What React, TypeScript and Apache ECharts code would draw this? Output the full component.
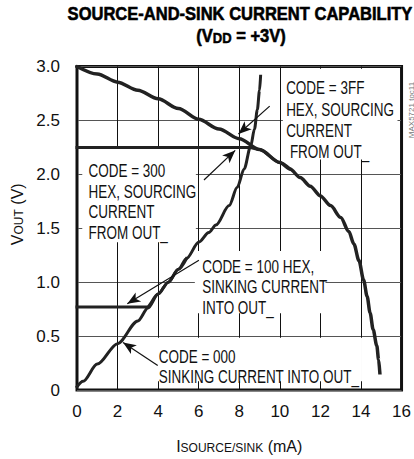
import React, { useEffect, useRef } from "react";
import * as echarts from "echarts";

// ---- data (I in mA, VOUT in V) ----
const code3FF: [number, number][] = [
  [0, 3.0], [1, 2.93], [2, 2.855], [3, 2.78], [4, 2.70], [5, 2.61], [6, 2.51],
  [7, 2.42], [8, 2.33], [9, 2.23], [10, 2.11], [10.5, 2.05], [11, 1.97],
  [11.5, 1.89], [12, 1.80], [12.5, 1.71], [13, 1.60], [13.4, 1.47],
  [13.65, 1.355], [13.9, 1.20], [14.13, 1.02], [14.3, 0.87], [14.45, 0.715],
  [14.6, 0.56], [14.78, 0.41], [14.87, 0.28], [14.93, 0.16],
];
const code300: [number, number][] = [
  [0, 2.25], [8.5, 2.25], [9, 2.23], [10, 2.11], [10.5, 2.05],
];
const code000: [number, number][] = [
  [0, 0.03], [0.3, 0.08], [1, 0.24], [2, 0.43], [3, 0.64], [3.5, 0.76],
  [4, 0.89], [4.5, 1.0], [5, 1.12], [5.4, 1.22], [6, 1.37], [6.5, 1.46],
  [6.85, 1.53], [7.5, 1.71], [7.9, 1.88], [8.24, 2.05], [8.56, 2.26],
  [8.75, 2.42], [8.89, 2.6], [9.0, 2.78], [9.05, 2.91],
];
const code100: [number, number][] = [
  [0, 0.77], [3.45, 0.77], [4, 0.89], [4.5, 1.0], [5, 1.12], [5.4, 1.22],
];

const arrowFrom: [number, number][] = [[9.5, 2.633], [6.26, 1.948], [6.01, 1.203], [3.98, 0.228]];
const arrowTo: [number, number][] = [[7.96, 2.374], [7.8, 2.222], [2.48, 0.8], [2.27, 0.441]];

const label3FF = ["CODE = 3FF", "HEX, SOURCING", "CURRENT", " FROM OUT_"];
const label300 = ["CODE = 300", "HEX, SOURCING", "CURRENT", "FROM OUT_"];
const label100 = ["CODE = 100 HEX,", "SINKING CURRENT", "INTO OUT_"];
const label000 = ["CODE = 000", "SINKING CURRENT INTO OUT_"];

const FONT = '"Liberation Sans", Arial, sans-serif';
const NARROW = 0.75;

export default function App() {
  const ref = useRef<HTMLDivElement>(null);
  useEffect(() => {
    const chart = echarts.init(ref.current!, null, { renderer: "svg" });
    const line = (name: string, data: [number, number][], width: number, extra: any = {}) => ({
      type: "line",
      name,
      data,
      symbol: "none",
      smooth: 0.3,
      smoothMonotone: "x",
      silent: true,
      z: 2,
      lineStyle: { color: "#222", width, cap: "square" },
      ...extra,
    });
    const nameRich = {
      m: { fontSize: 16, fontFamily: FONT, color: "#111", verticalAlign: "bottom", lineHeight: 20 },
      s: { fontSize: 12, fontFamily: FONT, color: "#111", verticalAlign: "bottom", lineHeight: 17.5 },
    };
    chart.setOption({
      animation: false,
      grid: {
        left: 77, top: 66.5, width: 328, height: 328.5,
        show: true, borderColor: "#111", borderWidth: 3, backgroundColor: "transparent",
      },
      xAxis: {
        type: "value", min: 0, max: 16, interval: 2,
        axisLine: { show: false }, axisTick: { show: false },
        splitLine: { show: true, lineStyle: { color: "#111", width: 1 } },
        axisLabel: { fontSize: 17, fontFamily: FONT, color: "#111", margin: 13 },
        name: "{m|I}{s|SOURCE/SINK}{m| (mA)}",
        nameLocation: "middle",
        nameGap: 44,
        nameTextStyle: { rich: nameRich },
      },
      yAxis: {
        type: "value", min: 0, max: 3, interval: 0.5,
        axisLine: { show: false }, axisTick: { show: false },
        splitLine: { show: true, lineStyle: { color: "#555", width: 1 } },
        axisLabel: {
          fontSize: 17, fontFamily: FONT, color: "#111", margin: 17,
          formatter: (v: number) => (v === 0 ? "0" : v.toFixed(1)),
        },
        name: "{m|V}{s|OUT}{m| (V)}",
        nameLocation: "middle",
        nameRotate: 90,
        nameGap: 46,
        nameTextStyle: { rich: nameRich, padding: [0, 0, 0, 28] },
      },
      series: [
        line("CODE = 3FF", code3FF, 3.5, {
          markLine: {
            silent: true,
            symbol: ["none", "arrow"],
            symbolSize: [8, 13],
            label: { show: false },
            lineStyle: { color: "#111", width: 1.2, type: "solid" },
            data: arrowFrom.map((f, i) => [{ coord: f }, { coord: arrowTo[i] }]),
          },
        }),
        line("CODE = 300", code300, 3),
        line("CODE = 000", code000, 3),
        line("CODE = 100", code100, 3),
      ],
    });

    const px = (p: [number, number]) => chart.convertToPixel({ gridIndex: 0 }, p) as number[];
    const boxes: { tl: [number, number]; br: [number, number] }[] = [
      { tl: [10.15, 2.98], br: [15.8, 2.137] },
      { tl: [0.26, 2.237], br: [5.86, 1.37] },
      { tl: [5.81, 1.288], br: [12.25, 0.712] },
      { tl: [3.82, 0.484], br: [14.05, 0.082] },
    ];
    const texts: { lines: string[]; at: [number, number]; lh: number }[] = [
      { lines: label3FF, at: [10.31, 2.80], lh: 21.3 },
      { lines: label300, at: [0.565, 2.035], lh: 20.8 },
      { lines: label100, at: [6.17, 1.145], lh: 20.5 },
      { lines: label000, at: [4.03, 0.31], lh: 20.5 },
    ];
    const graphic: any[] = [];
    boxes.forEach((b) => {
      const a = px(b.tl);
      const c = px(b.br);
      graphic.push({
        type: "rect", z: 1, silent: true,
        shape: { x: a[0], y: a[1], width: c[0] - a[0], height: c[1] - a[1] },
        style: { fill: "#fff" },
      });
    });
    texts.forEach((t) => {
      const a = px(t.at);
      graphic.push({
        type: "text", z: 10, silent: true, x: a[0], y: a[1] - t.lh / 2, scaleX: NARROW,
        style: {
          text: t.lines.join("\n"), fontSize: 18, fontFamily: FONT, fill: "#111",
          lineHeight: t.lh, align: "left", verticalAlign: "top",
        },
      });
    });
    graphic.push({
      type: "text", z: 10, silent: true, x: 240, y: 14, scaleX: 0.87,
      style: {
        text: "SOURCE-AND-SINK CURRENT CAPABILITY", fontSize: 19, fontWeight: "bold",
        fontFamily: FONT, fill: "#000", stroke: "#000", lineWidth: 0.6,
        align: "center", verticalAlign: "middle",
      },
    });
    graphic.push({
      type: "text", z: 10, silent: true, x: 241, y: 33, scaleX: 0.87,
      style: {
        text: "{m|(V}{s|DD}{m| = +3V)}", align: "center", verticalAlign: "middle",
        rich: {
          m: { fontSize: 19, fontWeight: "bold", fontFamily: FONT, fill: "#000", stroke: "#000", lineWidth: 0.6, verticalAlign: "bottom", lineHeight: 24 },
          s: { fontSize: 15, fontWeight: "bold", fontFamily: FONT, fill: "#000", stroke: "#000", lineWidth: 0.5, verticalAlign: "bottom", lineHeight: 17 },
        },
      },
    });
    graphic.push({
      type: "text", z: 10, silent: true, x: 411, y: 110, rotation: Math.PI / 2,
      style: {
        text: "MAX5721 toc11", fontSize: 8, fontFamily: FONT, fill: "#777",
        align: "center", verticalAlign: "middle",
      },
    });
    chart.setOption({ graphic });
    return () => chart.dispose();
  }, []);
  return (
    <div
      ref={ref}
      style={{ position: "fixed", left: 0, top: 0, width: 414, height: 459, background: "#fff" }}
    />
  );
}
